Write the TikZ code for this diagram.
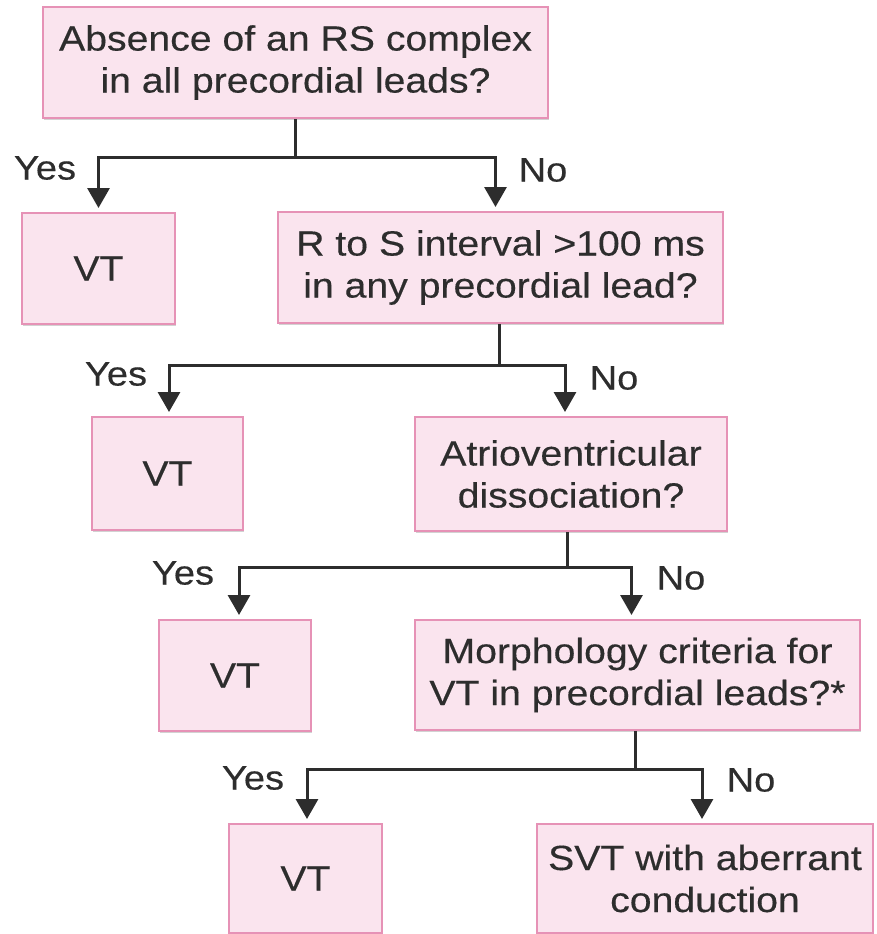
\documentclass[tikz,border=0pt]{standalone}
\usepackage{fontspec}
\setmainfont[FakeStretch=1.12,FakeBold=0.35]{Liberation Sans}
\usetikzlibrary{arrows.meta,shadows}
\definecolor{boxfill}{RGB}{250,228,238}
\definecolor{boxline}{RGB}{230,146,182}
\definecolor{ink}{RGB}{45,45,45}
\begin{document}
\begin{tikzpicture}[x=1pt,y=-1pt,
  box/.style={draw=boxline,line width=2pt,fill=boxfill,align=center,inner sep=0pt,
    text=ink,font=\fontsize{35}{42}\selectfont,
    drop shadow={shadow xshift=1.2pt,shadow yshift=-2pt,fill=black!35,opacity=0.5}},
  conn/.style={draw=ink,line width=3pt},
  arr/.style={conn,-{Triangle[width=22pt,length=20pt]},shorten >=4pt},
  lbl/.style={text=ink,font=\fontsize{34}{40}\selectfont,inner sep=0pt}]
\fill[white] (0,0) rectangle (876,934);
\useasboundingbox (0,0) rectangle (876,934);

\node[box,minimum width=505pt,minimum height=111pt] (b1) at (295.5,62.5)
  {Absence of an RS complex\\in all precordial leads?};
\node[box,minimum width=153pt,minimum height=111pt] (vt1) at (98.5,268.5) {VT};
\node[box,minimum width=445pt,minimum height=111pt] (b2) at (500.5,267.5)
  {R to S interval >100 ms\\in any precordial lead?};
\node[box,minimum width=151pt,minimum height=113pt] (vt2) at (167.5,473.5) {VT};
\node[box,minimum width=312pt,minimum height=114pt] (b3) at (571,474)
  {Atrioventricular\\dissociation?};
\node[box,minimum width=152pt,minimum height=111pt] (vt3) at (235,675.5) {VT};
\node[box,minimum width=445pt,minimum height=110pt] (b4) at (637.5,675)
  {Morphology criteria for\\VT in precordial leads?*};
\node[box,minimum width=153pt,minimum height=109pt] (vt4) at (305.5,878.5) {VT};
\node[box,minimum width=336pt,minimum height=109pt] (b5) at (705,878.5)
  {SVT with aberrant\\conduction};

% level 1
\draw[conn] (b1.south) -- ++(0,38) coordinate (j1);
\draw[arr] (j1) -| (vt1.north);
\draw[arr] (j1) -| ([xshift=-5pt]b2.north);
% level 2
\draw[conn] ([xshift=-1.5pt]b2.south) -- ++(0,41) coordinate (j2);
\draw[arr] (j2) -| ([xshift=1.5pt]vt2.north);
\draw[arr] (j2) -| ([xshift=-6pt]b3.north);
% level 3
\draw[conn] ([xshift=-4pt]b3.south) -- ++(0,35) coordinate (j3);
\draw[arr] (j3) -| ([xshift=4pt]vt3.north);
\draw[arr] (j3) -| ([xshift=-6pt]b4.north);
% level 4
\draw[conn] ([xshift=-2pt]b4.south) -- ++(0,38) coordinate (j4);
\draw[arr] (j4) -| ([xshift=1.5pt]vt4.north);
\draw[arr] (j4) -| ([xshift=-3pt]b5.north);

\node[lbl] (y1) at (45,168) {Yes};
\node[lbl] (n1) at (543,170) {No};
\node[lbl] (y2) at (116,374) {Yes};
\node[lbl] (n2) at (614,378) {No};
\node[lbl] (y3) at (183,573) {Yes};
\node[lbl] (n3) at (681,578) {No};
\node[lbl] (y4) at (253,778) {Yes};
\node[lbl] (n4) at (751,780) {No};
\end{tikzpicture}
\end{document}
